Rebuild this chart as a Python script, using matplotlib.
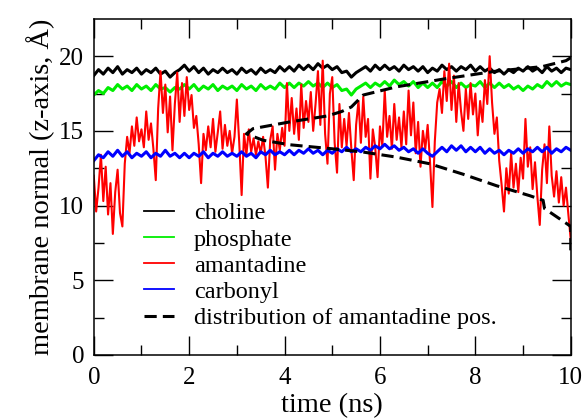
import matplotlib

matplotlib.use("Agg")
import matplotlib.pyplot as plt
import numpy as np

plt.rcParams["font.family"] = ["Liberation Serif", "DejaVu Serif"]

# --- data ----------------------------------------------------------------
t_lipid = np.linspace(0, 10, 101)

choline = [
    18.7, 19.1, 18.8, 19.2, 18.9, 19.3, 18.8, 19.1, 18.9, 19.2,
    18.8, 19.1, 18.9, 19.2, 18.8, 19.0, 18.6, 18.9, 19.1, 19.4,
    19.0, 19.3, 18.9, 19.2, 18.8, 19.1, 18.9, 19.2, 18.9, 19.1,
    18.8, 19.2, 18.9, 19.1, 18.8, 19.2, 18.9, 19.1, 18.9, 19.3,
    19.0, 19.3, 19.0, 19.4, 19.1, 19.4, 19.1, 19.5, 19.2, 19.4,
    19.1, 19.3, 18.9, 19.0, 18.6, 18.9, 19.1, 19.3, 19.0, 19.4,
    19.1, 19.4, 19.1, 19.3, 19.0, 19.4, 19.1, 19.3, 19.0, 19.3,
    18.9, 19.2, 19.0, 19.4, 19.1, 19.3, 19.0, 19.3, 19.1, 19.4,
    19.0, 19.3, 19.0, 19.2, 18.9, 19.1, 18.8, 19.1, 18.9, 19.2,
    19.0, 19.3, 19.0, 19.2, 18.9, 19.3, 19.0, 19.2, 18.9, 19.2,
    19.1,
]

phosphate = [
    17.4, 17.7, 17.5, 17.9, 17.7, 18.1, 17.8, 18.0, 17.7, 18.1,
    17.8, 18.0, 17.7, 18.1, 17.8, 17.9, 17.6, 17.9, 17.8, 18.1,
    17.8, 18.1, 17.7, 18.0, 17.8, 18.1, 17.7, 18.0, 17.8, 18.0,
    17.7, 18.1, 17.8, 18.0, 17.7, 18.1, 17.8, 18.0, 17.8, 18.2,
    17.9, 18.2, 17.9, 18.2, 18.0, 18.3, 18.0, 18.2, 17.9, 18.2,
    17.9, 18.1, 17.7, 17.8, 17.4, 17.8, 18.0, 18.2, 17.9, 18.2,
    18.0, 18.3, 18.0, 18.4, 18.1, 18.3, 18.0, 18.3, 17.9, 18.2,
    17.9, 18.2, 17.9, 18.3, 18.0, 18.3, 17.9, 18.2, 17.9, 18.1,
    18.0, 18.3, 17.9, 18.2, 17.9, 18.2, 17.9, 18.1, 17.8, 18.0,
    17.7, 18.0, 17.8, 18.1, 17.9, 18.3, 18.0, 18.3, 18.0, 18.2,
    18.1,
]

carbonyl = [
    13.0, 13.4, 13.2, 13.6, 13.3, 13.7, 13.3, 13.6, 13.2, 13.5,
    13.3, 13.6, 13.2, 13.5, 13.3, 13.7, 13.3, 13.5, 13.2, 13.5,
    13.2, 13.5, 13.3, 13.6, 13.2, 13.5, 13.3, 13.6, 13.3, 13.5,
    13.3, 13.6, 13.3, 13.5, 13.2, 13.6, 13.4, 13.7, 13.4, 13.6,
    13.4, 13.7, 13.4, 13.7, 13.5, 13.8, 13.5, 13.7, 13.4, 13.7,
    13.5, 13.8, 13.6, 13.9, 13.6, 13.8, 13.6, 13.9, 13.7, 14.0,
    13.8, 14.1, 13.8, 14.0, 13.7, 13.9, 13.6, 13.8, 13.5, 13.8,
    13.5, 13.3, 13.6, 13.9, 13.6, 14.0, 13.7, 14.0, 13.6, 13.9,
    13.6, 13.9, 13.5, 13.8, 13.5, 13.7, 13.4, 13.7, 13.5, 13.8,
    13.5, 13.8, 13.6, 13.9, 13.6, 13.9, 13.5, 13.8, 13.6, 13.9,
    13.7,
]

t_drug = np.linspace(0, 10, 201)

amantadine = [
    12.0, 9.6, 11.2, 13.4, 10.3, 12.6, 9.4, 11.5, 8.1, 10.9,
    12.4, 9.5, 8.6, 12.8, 14.6, 13.5, 15.3, 14.0, 15.9, 14.3,
    15.1, 13.9, 16.3, 14.4, 15.5, 13.8, 11.7, 16.5, 19.0, 16.2,
    18.1, 14.9, 17.3, 13.7, 16.8, 18.9, 15.6, 18.2, 16.0, 18.6,
    16.4, 17.4, 15.2, 16.0, 14.1, 11.5, 14.8, 13.7, 15.3, 13.9,
    15.8, 13.6, 14.9, 16.3, 13.8, 15.4, 14.0, 15.0, 13.5, 14.6,
    17.1, 14.2, 10.7, 14.8, 13.4, 15.1, 13.6, 14.5, 13.4, 14.3,
    13.5, 14.6, 13.3, 11.2, 14.4, 15.3, 12.4, 14.8, 13.7, 15.2,
    14.0, 18.2, 15.0, 17.2, 14.8, 16.5, 14.4, 18.1, 15.2, 17.0,
    15.6, 17.6, 15.0, 16.8, 19.0, 15.4, 19.7, 14.8, 12.8, 17.5,
    18.6, 14.2, 12.2, 16.8, 13.9, 15.8, 14.0, 16.2, 13.8, 11.7,
    15.4, 17.0, 14.2, 17.3, 14.6, 15.8, 11.8, 15.1, 13.9, 11.9,
    15.3, 14.0, 17.7, 14.6, 16.0, 13.8, 16.8, 14.4, 15.9, 13.9,
    16.3, 14.1, 17.7, 14.7, 16.9, 13.5, 15.6, 12.6, 15.0, 13.8,
    15.4, 12.9, 9.9, 14.3, 16.9, 17.8, 16.2, 19.0, 17.0, 19.5,
    16.4, 18.7, 15.6, 18.2, 16.3, 15.0, 17.8, 15.8, 18.2, 16.1,
    17.5, 14.7, 17.0, 15.6, 18.4, 16.8, 20.0, 16.9, 14.8, 15.9,
    13.0, 11.4, 9.6, 12.5, 10.8, 13.5, 11.2, 12.8, 10.9, 13.2,
    11.8, 15.8, 12.6, 13.9, 11.1, 12.9, 10.6, 8.7, 12.4, 14.1,
    11.5, 15.3, 12.0, 10.6, 12.3, 10.2, 11.9, 10.0, 11.2, 9.4,
    7.7,
]

# distribution of amantadine position, drawn sideways on the time axis
dist_t = [10.0, 10.0, 9.91, 9.45, 9.42, 9.14, 8.44, 7.74, 7.04, 6.35, 5.65,
          5.0, 4.11, 3.55, 3.2, 3.34, 4.11, 4.9, 5.2, 5.4, 5.65, 6.35, 7.39,
          8.44, 9.4, 9.9, 10.0, 10.0]
dist_z = [7.0, 8.6, 8.8, 9.8, 10.35, 10.66, 11.33, 12.1, 12.8, 13.24, 13.58,
          13.8, 14.07, 14.37, 14.8, 15.15, 15.6, 16.0, 16.3, 16.6, 17.4, 17.95,
          18.5, 19.0, 19.3, 19.7, 19.9, 20.3]

# --- figure ---------------------------------------------------------------
fig = plt.figure(figsize=(5.86, 4.19), dpi=100)
ax = fig.add_axes([0.160, 0.153, 0.814, 0.802])

ax.plot(t_lipid, choline, color="black", lw=2.2, label="choline")
ax.plot(t_lipid, phosphate, color="#00ee00", lw=2.2, label="phosphate")
ax.plot(t_drug, amantadine, color="red", lw=1.5, label="amantadine")
ax.plot(t_lipid, carbonyl, color="blue", lw=2.2, label="carbonyl")
ax.plot(dist_t, dist_z, color="black", lw=2.2, dashes=(4, 2),
        label="distribution of amantadine pos.")

ax.set_xlim(0, 10)
ax.set_ylim(0, 22.5)
ax.set_xticks([0, 2, 4, 6, 8, 10])
ax.set_xticks(np.arange(0, 10.1, 1), minor=True)
ax.set_yticks([0, 5, 10, 15, 20])
ax.set_yticks(np.arange(0, 22.5, 2.5), minor=True)
ax.tick_params(which="both", direction="in", top=True, right=True, width=1)
ax.tick_params(which="major", length=14, labelsize=18)
ax.tick_params(which="minor", length=7)
ax.tick_params(axis="x", pad=9)
ax.tick_params(axis="y", pad=7)
for s in ax.spines.values():
    s.set_linewidth(1.1)

ax.set_xlabel("time (ns)", fontsize=20.5, labelpad=3)
ax.set_ylabel("membrane normal (z-axis, Å)", fontsize=20.5, labelpad=3)

leg = ax.legend(loc="lower left", bbox_to_anchor=(0.085, 0.048), frameon=False,
                fontsize=17.5, handlelength=1.25, handletextpad=0.8,
                labelspacing=0.17, borderaxespad=0)
for line in leg.get_lines():
    line.set_linewidth(1.3)
leg.get_lines()[-1].set_linewidth(2.2)

fig.savefig("out.png", dpi=100, facecolor="white")
